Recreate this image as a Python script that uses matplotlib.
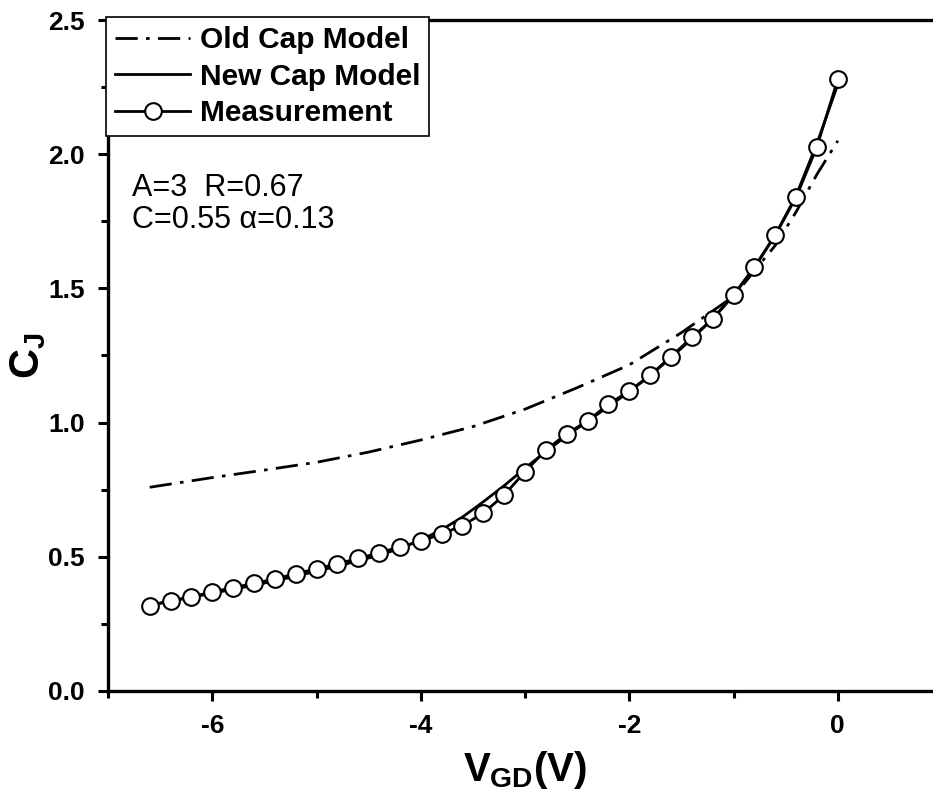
import matplotlib
matplotlib.use("Agg")
import matplotlib.pyplot as plt
import numpy as np

plt.rcParams['font.family'] = ['Liberation Sans', 'DejaVu Sans']
plt.rcParams['font.weight'] = 'bold'
plt.rcParams['axes.unicode_minus'] = False
plt.rcParams['mathtext.fontset'] = 'custom'
plt.rcParams['mathtext.rm'] = 'Liberation Sans:bold'
plt.rcParams['mathtext.it'] = 'Liberation Sans:bold'
plt.rcParams['mathtext.bf'] = 'Liberation Sans:bold'

# measured junction capacitance
meas_v = [-6.6, -6.4, -6.2, -6.0, -5.8, -5.6, -5.4, -5.2, -5.0, -4.8, -4.6, -4.4,
          -4.2, -4.0, -3.8, -3.6, -3.4, -3.2, -3.0, -2.8, -2.6, -2.4, -2.2, -2.0,
          -1.8, -1.6, -1.4, -1.2, -1.0, -0.8, -0.6, -0.4, -0.2, 0.0]
meas_c = [0.318, 0.336, 0.351, 0.369, 0.385, 0.401, 0.417, 0.437, 0.455, 0.474, 0.494, 0.514,
          0.537, 0.558, 0.585, 0.616, 0.663, 0.730, 0.817, 0.898, 0.958, 1.007, 1.068, 1.118,
          1.176, 1.246, 1.317, 1.386, 1.476, 1.579, 1.699, 1.839, 2.028, 2.279]

# new capacitance model
new_v = meas_v
new_c = [0.320, 0.334, 0.349, 0.364, 0.379, 0.394, 0.410, 0.428, 0.446, 0.465, 0.485, 0.506,
         0.531, 0.562, 0.601, 0.648, 0.705, 0.765, 0.830, 0.892, 0.951, 1.005, 1.060, 1.115,
         1.175, 1.242, 1.312, 1.386, 1.474, 1.578, 1.698, 1.846, 2.040, 2.260]

# old capacitance model
old_v = [-6.6, -6.0, -5.5, -5.0, -4.5, -4.0, -3.5, -3.0, -2.5, -2.0, -1.5, -1.0, -0.6, -0.4, -0.2, 0.0]
old_c = [0.759, 0.795, 0.823, 0.852, 0.890, 0.935, 0.985, 1.050, 1.130, 1.215, 1.335, 1.470,
         1.660, 1.785, 1.925, 2.050]

fig = plt.figure(figsize=(9.33, 8), dpi=100)
ax = fig.add_axes([0.1158, 0.1363, 0.8939, 0.8387])

ax.plot(old_v, old_c, color='black', lw=2.0, ls=(0, (8, 3, 1.3, 3)), label='Old Cap Model')
ax.plot(new_v, new_c, color='black', lw=2.0, label='New Cap Model')
ax.plot(meas_v, meas_c, color='black', lw=2.0, marker='o', ms=12, mfc='white',
        mec='black', mew=1.5, label='Measurement')

ax.set_xlim(-7, 1)
ax.set_ylim(0, 2.5)
ax.set_xticks([-6, -4, -2, 0])
ax.set_xticks([-7, -5, -3, -1, 1], minor=True)
ax.set_yticks([0.0, 0.5, 1.0, 1.5, 2.0, 2.5])
ax.set_yticklabels(['0.0', '0.5', '1.0', '1.5', '2.0', '2.5'])
ax.set_yticks([0.25, 0.75, 1.25, 1.75, 2.25], minor=True)
ax.tick_params(which='major', direction='out', length=7.5, width=2.2, labelsize=19)
ax.tick_params(axis='x', which='major', pad=9)
ax.tick_params(axis='y', which='major', pad=9)
ax.tick_params(which='minor', direction='out', length=5, width=2.2)
for s in ax.spines.values():
    s.set_linewidth(2.4)

ax.set_xlabel(r'$V_{GD}$(V)', fontsize=29, fontweight='bold', labelpad=8)
ax.set_ylabel(r'$C_J$', fontsize=30, fontweight='bold')
ax.yaxis.set_label_coords(-0.072, 0.5)

ax.text(0.029, 0.7377, 'A=3  R=0.67', transform=ax.transAxes,
        fontsize=22, fontweight='normal', va='baseline', ha='left')
ax.text(0.029, 0.690, 'C=0.55 α=0.13', transform=ax.transAxes,
        fontsize=22, fontweight='normal', va='baseline', ha='left')

leg = ax.legend(loc='upper left', bbox_to_anchor=(-0.002, 1.004), borderaxespad=0,
                fontsize=21.5, frameon=True, fancybox=False, edgecolor='black',
                handlelength=2.5, handletextpad=0.33, labelspacing=0.28,
                borderpad=0.3, numpoints=1)
leg.get_frame().set_linewidth(1.2)
leg.get_frame().set_alpha(1)

fig.savefig('out.png', dpi=100)
